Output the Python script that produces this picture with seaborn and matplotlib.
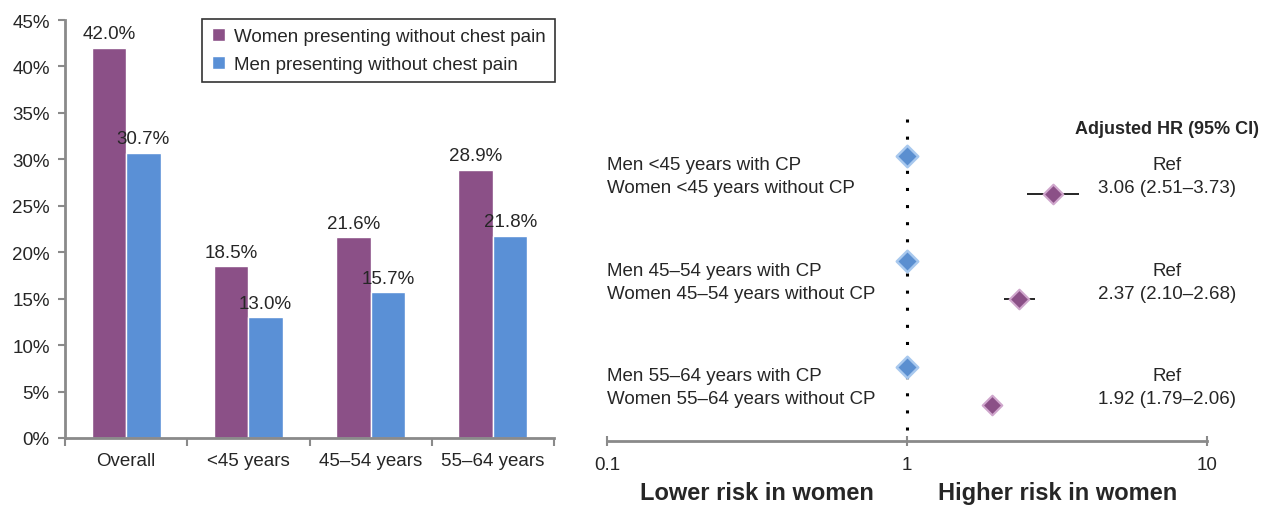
import numpy as np
import pandas as pd
import seaborn as sns
import matplotlib.pyplot as plt
from matplotlib.ticker import FixedLocator, FuncFormatter

# --- data ---
categories = ['Overall', '<45 years', '45–54 years', '55–64 years']
women_pct = [42.0, 18.5, 21.6, 28.9]
men_pct = [30.7, 13.0, 15.7, 21.8]
series_names = ['Women presenting without chest pain', 'Men presenting without chest pain']

age_groups = ['<45', '45–54', '55–64']
hr = [3.06, 2.37, 1.92]
ci_low = [2.51, 2.10, 1.79]
ci_high = [3.73, 2.68, 2.06]
hr_ticks = [0.1, 1, 10]

purple = '#8b5087'
blue = '#5a90d6'
grey = '#8a8a8a'
fs = 13.5

sns.set_theme(style='white')
plt.rcParams['font.family'] = ['Liberation Sans', 'DejaVu Sans']

fig = plt.figure(figsize=(12.65, 5.06), dpi=100)

# ---------- left: bar chart ----------
ax = fig.add_axes([65 / 1265, 1 - 439 / 506, 489 / 1265, 418 / 506])
df = pd.DataFrame({
    'cat': categories * 2,
    'pct': women_pct + men_pct,
    'series': [series_names[0]] * 4 + [series_names[1]] * 4,
})
sns.barplot(data=df, x='cat', y='pct', hue='series', palette=[purple, blue],
            width=0.565, ax=ax, saturation=1, legend=True)
for cont in ax.containers:
    ax.bar_label(cont, fmt='%.1f%%', padding=4, fontsize=fs)

ax.set_ylim(0, 45)
ax.set_xlim(-0.5, 3.5)
ax.set_yticks(range(0, 46, 5))
ax.yaxis.set_major_formatter(FuncFormatter(lambda v, p: f'{v:.0f}%'))
ax.xaxis.set_minor_locator(FixedLocator(np.arange(-0.5, 4, 1)))
ax.tick_params(axis='x', which='major', length=0, pad=10, labelsize=fs)
ax.tick_params(axis='x', which='minor', bottom=True, length=6, width=1.5, color=grey, direction='out')
ax.tick_params(axis='y', left=True, length=5, width=1.5, color=grey, direction='out', labelsize=fs, pad=6)
ax.set_xlabel('')
ax.set_ylabel('')
for s in ['top', 'right']:
    ax.spines[s].set_visible(False)
for s in ['left', 'bottom']:
    ax.spines[s].set_color(grey)
    ax.spines[s].set_linewidth(2)

leg = ax.legend(loc='upper right', bbox_to_anchor=(1.003, 1.003), fontsize=fs, frameon=True,
                fancybox=False, edgecolor='black', handlelength=0.7, handleheight=0.7,
                handletextpad=0.5, borderpad=0.5, labelspacing=0.55, borderaxespad=0)
leg.get_frame().set_linewidth(1.2)

# ---------- right: forest plot ----------
fx = fig.add_axes([607 / 1265, 1 - 442 / 506, 600 / 1265, 332 / 506])
fx.set_xscale('log')
fx.set_xlim(0.1, 10)
fx.set_ylim(442, 110)
fx.patch.set_alpha(0)

step = 105.5
men_y = [157 + step * i for i in range(3)]
women_y = [195 + step * i for i in range(3)]
col_x = 0.933

fx.plot([1, 1], [120, 442], color='black', linestyle=(0, (1, 4.6)), linewidth=2.2,
        dash_capstyle='butt')

fx.hlines(women_y, ci_low, ci_high, color='black', linewidth=1.2, zorder=3)
sns.scatterplot(x=[1] * 3, y=men_y, marker='D', s=120, color='#5b8fd0', edgecolor='#a8c8ee',
                linewidth=1.8, ax=fx, zorder=4)
sns.scatterplot(x=hr, y=women_y, marker='D', s=100, color=purple, edgecolor='#cfa6cc',
                linewidth=1.5, ax=fx, zorder=4)

for i, g in enumerate(age_groups):
    fx.text(0.1, men_y[i] + 9, f'Men {g} years with CP', fontsize=fs,
            va='center', ha='left')
    fx.text(0.1, women_y[i] - 6, f'Women {g} years without CP', fontsize=fs,
            va='center', ha='left')
    fx.text(col_x, men_y[i] + 9, 'Ref', fontsize=fs, va='center',
            ha='center', transform=fx.get_yaxis_transform())
    fx.text(col_x, women_y[i] - 6, f'{hr[i]:.2f} ({ci_low[i]:.2f}–{ci_high[i]:.2f})',
            fontsize=fs, va='center', ha='center', transform=fx.get_yaxis_transform())
fx.text(col_x, 130, 'Adjusted HR (95% CI)', fontsize=13, fontweight='bold',
        va='center', ha='center', transform=fx.get_yaxis_transform())

fx.set_xticks(hr_ticks)
fx.set_xticklabels(['0.1', '1', '10'])
fx.xaxis.set_minor_locator(FixedLocator([]))
fx.tick_params(axis='x', bottom=True, length=7, width=1.5, color=grey, direction='inout',
               labelsize=fs, pad=7)
fx.set_yticks([])
for s in ['top', 'right', 'left']:
    fx.spines[s].set_visible(False)
fx.spines['bottom'].set_color(grey)
fx.spines['bottom'].set_linewidth(2)

fig.text(757 / 1265, 1 - 494 / 506, 'Lower risk in women', fontsize=17, fontweight='bold',
         ha='center', va='center')
fig.text(1058 / 1265, 1 - 494 / 506, 'Higher risk in women', fontsize=17, fontweight='bold',
         ha='center', va='center')

fig.savefig('out.png', dpi=100)
